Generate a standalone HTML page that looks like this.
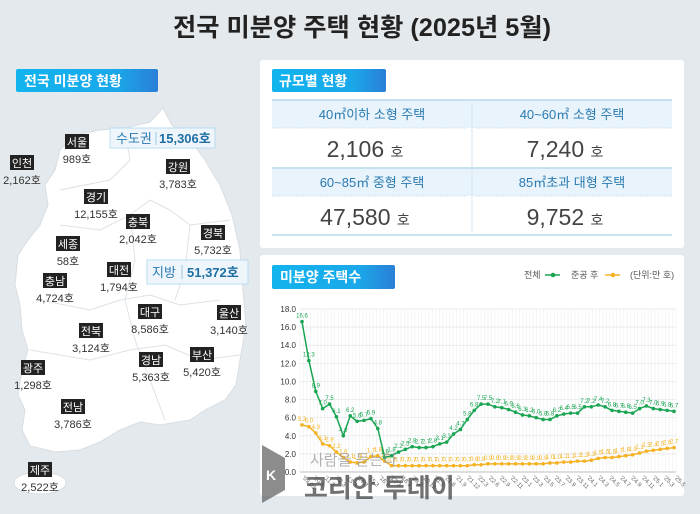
<!DOCTYPE html>
<html><head><meta charset="utf-8"><style>
html,body{margin:0;padding:0;background:#e4e9ed;}
svg{display:block;font-family:"Liberation Sans","Noto Sans CJK KR",sans-serif;}
</style></head><body>
<svg id="s" width="700" height="514" viewBox="0 0 700 514" xmlns="http://www.w3.org/2000/svg">
<defs>
<linearGradient id="bl" x1="0" x2="1" y1="0" y2="0"><stop offset="0" stop-color="#12b4ee"/><stop offset="0.7" stop-color="#1aa8ea"/><stop offset="1" stop-color="#2a7fd6"/></linearGradient>
</defs>
<rect width="700" height="514" fill="#e4e9ed"/>
<text x="362" y="36" text-anchor="middle" font-size="25" font-weight="bold" fill="#222" textLength="378" lengthAdjust="spacingAndGlyphs">전국 미분양 주택 현황  (2025년 5월)</text>

<!-- left header -->
<rect x="16" y="69" width="142" height="23" rx="2" fill="url(#bl)"/>
<text x="24" y="86" font-size="14" font-weight="bold" fill="#fff">전국 미분양 현황</text>

<!-- map -->
<path d="M163,108 L172,125 L190,140 L205,160 L220,185 L232,215 L240,250 L243,290 L246,325 L240,360 L236,385 L225,400 L205,410 L190,420 L160,425 L140,422 L120,430 L100,442 L80,450 L55,452 L30,446 L22,430 L25,410 L18,395 L22,370 L28,350 L22,330 L20,305 L15,285 L18,255 L28,240 L40,225 L48,205 L45,185 L55,170 L60,150 L75,135 L100,130 L125,128 L150,122 Z" fill="#fff" stroke="#d8dde2" stroke-width="1"/>
<g fill="none" stroke="#dde2e6" stroke-width="1">
<path d="M60,190 L110,180 L130,160 L125,130"/><path d="M60,225 L100,230 L130,215 L150,200 L170,210 L190,225 L230,220"/>
<path d="M40,300 L90,310 L120,300 L150,295 L180,305 L220,300"/><path d="M30,350 L90,360 L130,350 L165,345 L200,360 L240,355"/>
<path d="M130,215 L135,260 L125,300 L135,340 L150,380 L165,420"/><path d="M190,225 L185,270 L175,300"/>
</g>
<ellipse cx="40" cy="483" rx="26" ry="11" fill="#fff" stroke="#d8dde2"/>

<g id="labels" font-size="11" text-anchor="middle"></g>

<rect x="110" y="128" width="105" height="20" fill="#eef6fc" stroke="#b9dcf0"/>
<text x="116" y="143" font-size="13" fill="#2a7ab0">수도권</text>
<line x1="156" y1="132" x2="156" y2="145" stroke="#9cc8e4"/>
<text x="159" y="143" font-size="13" font-weight="bold" fill="#1f6fa4">15,306호</text>
<rect x="147" y="260" width="101" height="24" fill="#eef6fc" stroke="#b9dcf0"/>
<text x="152" y="277" font-size="13" fill="#2a7ab0">지방</text>
<line x1="182" y1="265" x2="182" y2="279" stroke="#9cc8e4"/>
<text x="187" y="277" font-size="13" font-weight="bold" fill="#1f6fa4">51,372호</text>

<!-- right top card -->
<rect x="260" y="60" width="424" height="188" rx="3" fill="#fff"/>
<rect x="272" y="69" width="114" height="23" rx="2" fill="url(#bl)"/>
<text x="279" y="86" font-size="14" font-weight="bold" fill="#fff">규모별 현황</text>
<rect x="272" y="100" width="400" height="28" fill="#e8f3fb"/>
<rect x="272" y="168" width="400" height="28" fill="#e8f3fb"/>
<g stroke="#b7d9ec" stroke-width="1.5"><line x1="272" y1="100" x2="672" y2="100"/><line x1="272" y1="168" x2="672" y2="168"/><line x1="272" y1="235" x2="672" y2="235"/></g>
<g stroke="#d2e6f2"><line x1="472" y1="103" x2="472" y2="232"/><line x1="272" y1="128" x2="467" y2="128" stroke-dasharray="2,1"/><line x1="475" y1="128" x2="672" y2="128" stroke-dasharray="2,1"/><line x1="272" y1="196" x2="467" y2="196" stroke-dasharray="2,1"/><line x1="475" y1="196" x2="672" y2="196" stroke-dasharray="2,1"/></g>
<g font-size="13" fill="#2a7ab0" text-anchor="middle">
<text x="372" y="119">40㎡이하 소형 주택</text><text x="572" y="119">40~60㎡ 소형 주택</text>
<text x="372" y="187">60~85㎡ 중형 주택</text><text x="572" y="187">85㎡초과 대형 주택</text>
</g>
<g font-size="23" fill="#444" text-anchor="middle">
<text x="365" y="157">2,106 <tspan font-size="14">호</tspan></text><text x="565" y="157">7,240 <tspan font-size="14">호</tspan></text>
<text x="365" y="225">47,580 <tspan font-size="14">호</tspan></text><text x="565" y="225">9,752 <tspan font-size="14">호</tspan></text>
</g>

<!-- chart card -->
<rect x="260" y="255" width="424" height="241" rx="3" fill="#fff"/>
<rect x="272" y="265" width="123" height="24" rx="2" fill="url(#bl)"/>
<text x="280" y="282" font-size="14" font-weight="bold" fill="#fff">미분양 주택수</text>
<g font-size="9" fill="#555">
<text x="524" y="278">전체</text><line x1="545" y1="275" x2="560" y2="275" stroke="#1aa552" stroke-width="1.5"/><circle cx="553" cy="275" r="2.3" fill="#1aa552"/>
<text x="571" y="278">준공 후</text><line x1="605" y1="275" x2="620" y2="275" stroke="#f5b223" stroke-width="1.5"/><circle cx="613" cy="275" r="2.3" fill="#f5b223"/>
<text x="630" y="278">(단위:만 호)</text>
</g>
<g id="chart"></g>
<g opacity="0.75">
<text x="310" y="465" font-size="15" fill="#999">사람을 듣는다</text>
<text x="304" y="497" font-size="26" font-weight="bold" fill="#444">코리안 투데이</text>
<path d="M262,445 L285,458 L285,490 L262,503 Z" fill="#666"/>
<text x="266" y="480" font-size="14" fill="#fff" font-weight="bold">K</text>
</g>
</svg>
<script>
var NS="http://www.w3.org/2000/svg";
function el(p,t,a,txt){var e=document.createElementNS(NS,t);for(var k in a)e.setAttribute(k,a[k]);if(txt!==undefined)e.textContent=txt;p.appendChild(e);return e;}
var L=[["서울",77,142,"989호"],["인천",22,163,"2,162호"],["강원",178,167,"3,783호"],["경기",96,197,"12,155호"],["충북",138,222,"2,042호"],["경북",213,233,"5,732호"],["세종",68,244,"58호"],["대전",119,270,"1,794호"],["충남",55,281,"4,724호"],["대구",150,312,"8,586호"],["울산",229,313,"3,140호"],["전북",91,331,"3,124호"],["경남",151,360,"5,363호"],["부산",202,355,"5,420호"],["광주",33,368,"1,298호"],["전남",73,407,"3,786호"],["제주",40,470,"2,522호"]];
var g=document.getElementById("labels");
L.forEach(function(l){el(g,"rect",{x:l[1]-12,y:l[2]-8,width:24,height:15,fill:"#222"});el(g,"text",{x:l[1],y:l[2]+4,fill:"#fff"},l[0]);el(g,"text",{x:l[1],y:l[2]+21,fill:"#333"},l[3]);});
var G=[16.6,12.3,8.9,7.0,7.5,6.1,4.0,6.2,5.6,5.7,5.9,4.8,1.6,1.8,2.2,2.5,2.8,2.7,2.7,2.8,3.1,3.3,4.2,4.7,5.8,6.8,7.5,7.5,7.2,7.1,6.9,6.6,6.3,6.2,6.0,5.8,5.8,6.2,6.4,6.5,6.5,7.2,7.2,7.4,7.2,6.8,6.7,6.6,6.5,7.0,7.3,7.0,6.9,6.8,6.7];
var O=[5.2,5.0,4.3,3.1,2.9,2.2,1.6,1.1,1.0,1.1,1.7,1.8,1.2];
for(var i=13;i<=24;i++)O.push(0.7);O.push(0.8,0.8);for(i=27;i<=35;i++)O.push(0.9);
O.push(1.0,1.0,1.1,1.1,1.2,1.2,1.3,1.5,1.6,1.6,1.7,1.8,1.9,2.1,2.3,2.4,2.5,2.6,2.7);
O=O.slice(0,55);
var c=document.getElementById("chart");
var x0=302,x1=674,y0=472,sc=(472-309)/18;
function X(i){return x0+i*(x1-x0)/54;}function Y(v){return y0-v*sc;}
for(i=0;i<=108;i++){var xx=x0-2+i*(x1-x0+4)/108;el(c,"line",{x1:xx,y1:309,x2:xx,y2:472,stroke:"#eceff1","stroke-width":0.6});}
for(var v=0;v<=18;v+=2){el(c,"line",{x1:x0-2,y1:Y(v),x2:x1+2,y2:Y(v),stroke:v==0?"#aaa":"#e2e5e8","stroke-width":0.7});el(c,"text",{x:x0-6,y:Y(v)+3,"font-size":8,"text-anchor":"end",fill:"#333"},v.toFixed(1));}
var xl=["'09.03","'10.3","'11.3","'12.3","'13.3","'14.3","'15.3","'16.3","'17.3","'18.3","'19.3","'20.12","'21.3","'21.6","'21.9","'21.12","'22.3","'22.6","'22.9","'22.11","'23.1","'23.3","'23.5","'23.7","'23.9","'23.11","'24.1","'24.3","'24.5","'24.7","'24.9","'24.11","'25.1","'25.3","'25.5"];
for(i=0;i<xl.length;i++){var xi=x0+i*(x1-x0)/(xl.length-1);el(c,"text",{x:xi,y:478,"font-size":6,fill:"#666",transform:"rotate(45 "+xi+" 478)"},xl[i]);}
function series(d,col){var p=d.map(function(v,i){return X(i).toFixed(1)+","+Y(v).toFixed(1);}).join(" ");el(c,"polyline",{points:p,fill:"none",stroke:col,"stroke-width":1.5});
d.forEach(function(v,i){el(c,"circle",{cx:X(i),cy:Y(v),r:1.8,fill:col});el(c,"text",{x:X(i),y:Y(v)-4,"font-size":6,"text-anchor":"middle",fill:col},v.toFixed(1));});}
series(O,"#f5b223");series(G,"#1aa552");
</script>
</body></html>
